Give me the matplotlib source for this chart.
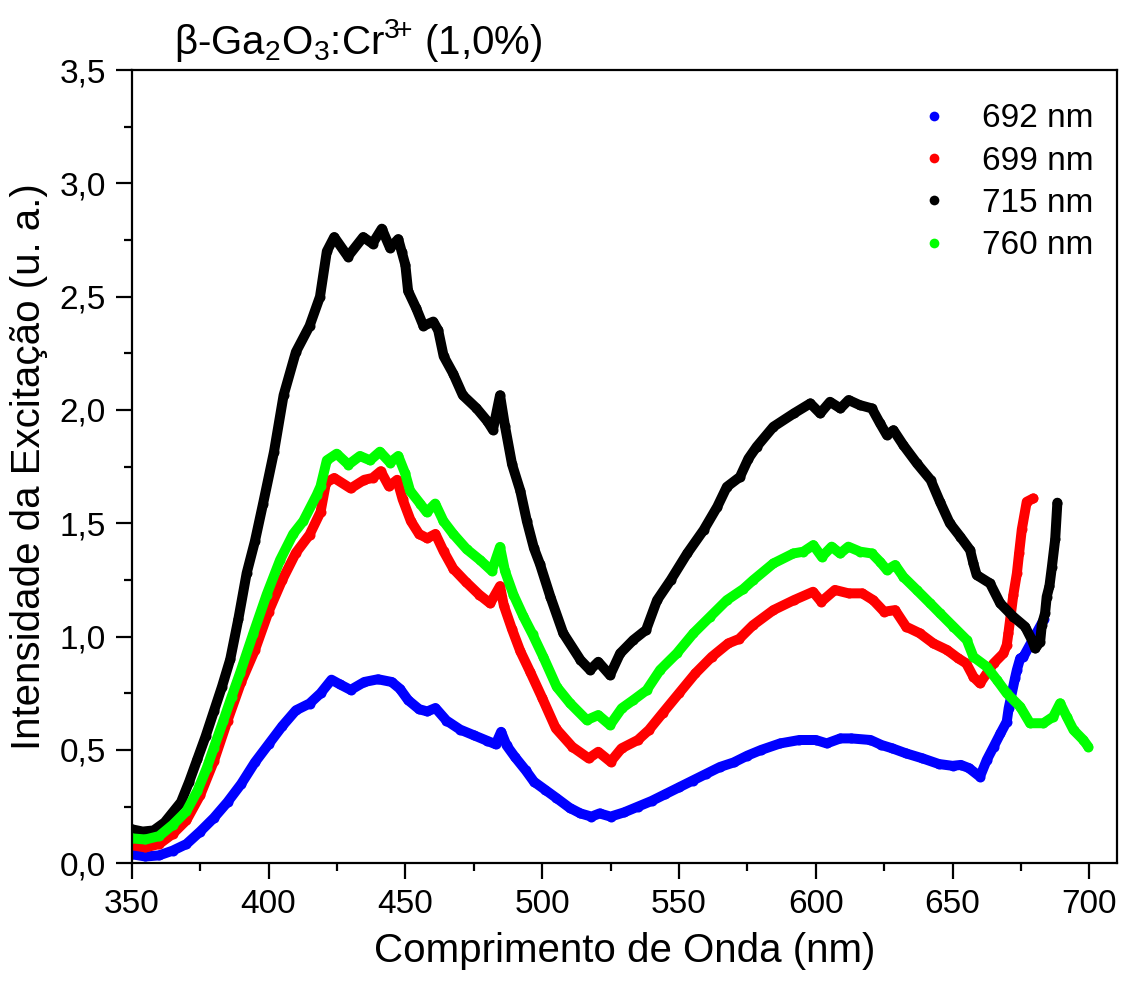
import matplotlib
matplotlib.use("Agg")
import matplotlib.pyplot as plt
from matplotlib.lines import Line2D
from matplotlib.ticker import MultipleLocator, FuncFormatter

plt.rcParams['font.family'] = ['Liberation Sans', 'DejaVu Sans']
plt.rcParams['mathtext.fontset'] = 'custom'
plt.rcParams['mathtext.rm'] = 'Liberation Sans'
plt.rcParams['mathtext.it'] = 'Liberation Sans:italic'
plt.rcParams['mathtext.bf'] = 'Liberation Sans:bold'

# ---------------- data ----------------
wl_692 = [350, 355, 360, 365, 370, 375, 380, 385, 390, 395, 400, 405, 410, 415, 419,
          423, 426, 430, 435, 440, 445, 448, 451, 455, 458, 461, 465, 470, 475, 480,
          483, 485, 487, 490, 494, 497, 501, 505, 510, 514, 518, 521, 525, 530, 535,
          540, 545, 550, 555, 560, 565, 570, 575, 580, 587, 594, 600, 604, 609, 613,
          620, 624, 628, 633, 639, 645, 650, 653, 656, 660, 662.5, 665, 667.5, 669.8,
          670.5, 672.8, 673.5, 674.7, 675.9, 683.4]
int_692 = [0.04, 0.03, 0.035, 0.056, 0.085, 0.14, 0.20, 0.27, 0.35, 0.445, 0.525, 0.605,
           0.675, 0.705, 0.75, 0.81, 0.79, 0.765, 0.80, 0.812, 0.80, 0.77, 0.72, 0.68,
           0.67, 0.685, 0.63, 0.59, 0.565, 0.54, 0.525, 0.58, 0.52, 0.47, 0.41, 0.36,
           0.325, 0.29, 0.245, 0.22, 0.206, 0.22, 0.206, 0.225, 0.25, 0.275, 0.305,
           0.335, 0.365, 0.395, 0.425, 0.445, 0.475, 0.50, 0.529, 0.544, 0.544, 0.529,
           0.551, 0.551, 0.544, 0.522, 0.507, 0.485, 0.463, 0.438, 0.43, 0.434, 0.42,
           0.382, 0.456, 0.514, 0.573, 0.625, 0.684, 0.816, 0.853, 0.904, 0.911, 1.076]

wl_699 = [350, 355, 360, 365, 370, 375, 380, 385, 390, 395, 400, 405, 410, 415, 419,
          421, 424, 430, 435, 438, 441, 444, 447, 449, 452, 455, 458, 461, 464, 467.5,
          472, 477, 481, 484.6, 486, 489, 492, 495.6, 500, 505, 511, 517, 520.5, 525,
          529, 535, 539, 544, 550, 556, 562, 568, 572, 577, 584.5, 592, 599, 602, 607,
          612, 617, 621, 625, 629, 633, 638, 643, 648, 652, 655, 657.6, 660, 662.5, 665,
          668.6, 669.8, 670.4, 672.2, 673.5, 674.3, 675.3, 677.1, 679.5]
int_699 = [0.08, 0.07, 0.085, 0.13, 0.19, 0.30, 0.45, 0.63, 0.80, 0.94, 1.11, 1.25, 1.37,
           1.45, 1.55, 1.68, 1.70, 1.654, 1.692, 1.70, 1.73, 1.663, 1.692, 1.606, 1.51,
           1.453, 1.434, 1.453, 1.376, 1.30, 1.243, 1.185, 1.147, 1.223, 1.137, 1.032,
           0.936, 0.845, 0.73, 0.595, 0.514, 0.463, 0.492, 0.448, 0.507, 0.544, 0.588,
           0.662, 0.75, 0.838, 0.911, 0.97, 0.99, 1.05, 1.117, 1.161, 1.198, 1.154,
           1.206, 1.191, 1.191, 1.161, 1.11, 1.117, 1.044, 1.015, 0.97, 0.941, 0.905,
           0.882, 0.823, 0.794, 0.838, 0.882, 0.926, 0.963, 1.015, 1.184, 1.279, 1.367,
           1.473, 1.595, 1.61]

wl_715 = [350, 354, 358, 362, 364, 368, 371, 374, 377, 380, 383, 386, 389, 392, 395,
          398, 402, 405.5, 410, 415, 418.8, 421.3, 424, 429, 434.6, 438, 441.4, 444.4,
          447.4, 448.7, 450, 451, 454, 456.6, 460.2, 462, 464, 467.5, 471, 476, 480,
          482, 484.6, 486.4, 489, 492, 494.4, 497, 499.2, 503, 507.7, 514, 517.5, 520.5,
          524.8, 528.5, 533.3, 538, 542, 547, 553, 559, 564, 567.5, 572.3, 575.4, 578.4,
          584.5, 592, 598, 601.6, 605.2, 609, 612, 616, 620.5, 623.5, 626, 628.4, 632,
          637, 642, 645.4, 649, 652.8, 656.4, 657.6, 658.8, 663.7, 667.4, 672.2, 676.5,
          679, 680.2, 682, 682.6, 683.8, 684.4, 685.4, 686.3, 687.5, 688.3]
int_715 = [0.15, 0.14, 0.145, 0.18, 0.21, 0.27, 0.36, 0.46, 0.56, 0.67, 0.78, 0.90, 1.08,
           1.28, 1.42, 1.587, 1.816, 2.065, 2.256, 2.371, 2.50, 2.70, 2.763, 2.677,
           2.763, 2.734, 2.80, 2.715, 2.754, 2.697, 2.64, 2.525, 2.448, 2.371, 2.39,
           2.352, 2.237, 2.16, 2.065, 2.008, 1.95, 1.912, 2.065, 1.93, 1.76, 1.644, 1.51,
           1.39, 1.32, 1.176, 1.015, 0.897, 0.853, 0.889, 0.83, 0.926, 0.985, 1.03,
           1.161, 1.25, 1.367, 1.47, 1.573, 1.661, 1.705, 1.786, 1.838, 1.926, 1.985,
           2.029, 1.985, 2.036, 2.007, 2.044, 2.022, 2.007, 1.941, 1.889, 1.911, 1.845,
           1.764, 1.691, 1.595, 1.50, 1.441, 1.382, 1.323, 1.272, 1.235, 1.147, 1.088,
           1.044, 0.985, 0.948, 0.977, 1.051, 1.103, 1.176, 1.223, 1.308, 1.429, 1.591]

wl_760 = [350, 355, 360, 365, 370, 374, 377.4, 380, 383.5, 386.5, 389.6, 394.4, 399.3,
          404.2, 409, 412.7, 417.6, 419, 421.3, 424.9, 429.2, 433.4, 437.1, 440.7, 444.4,
          447.4, 449.9, 451.7, 455.4, 457.8, 460.9, 463.9, 467.5, 472.4, 477.3, 481.6,
          484.6, 486.4, 489.5, 493.1, 496.5, 500.4, 505.3, 510.2, 516.3, 520.5, 524.8,
          529.1, 533.3, 538.2, 543.1, 549.2, 555.3, 561.4, 567.5, 573.5, 577.2, 584.5,
          591.8, 595.5, 599.1, 602.2, 605.8, 608.9, 611.9, 616.2, 620.5, 623.5, 626, 629,
          632, 636.9, 641.8, 645.4, 650.3, 655.2, 657.6, 662.5, 666.2, 669.8, 674.7,
          678.3, 683.2, 686.8, 689.3, 691.7, 694.2, 697.8, 699.6]
int_760 = [0.11, 0.105, 0.12, 0.17, 0.23, 0.32, 0.42, 0.51, 0.63, 0.735, 0.84, 1.013,
           1.185, 1.338, 1.453, 1.51, 1.625, 1.663, 1.778, 1.807, 1.759, 1.797, 1.778,
           1.816, 1.768, 1.797, 1.721, 1.644, 1.587, 1.549, 1.587, 1.51, 1.453, 1.386,
           1.338, 1.29, 1.396, 1.29, 1.185, 1.09, 1.01, 0.911, 0.779, 0.706, 0.632,
           0.654, 0.61, 0.684, 0.72, 0.764, 0.853, 0.926, 1.015, 1.088, 1.161, 1.21,
           1.25, 1.323, 1.367, 1.375, 1.404, 1.352, 1.397, 1.367, 1.397, 1.375, 1.367,
           1.33, 1.294, 1.316, 1.264, 1.206, 1.147, 1.103, 1.044, 0.985, 0.911, 0.867,
           0.809, 0.75, 0.691, 0.618, 0.618, 0.647, 0.706, 0.647, 0.588, 0.544, 0.514]

series_labels = ['692 nm', '699 nm', '715 nm', '760 nm']
series_colors = ['#0000ff', '#ff0000', '#000000', '#00ff00']
x_ticks = [350, 400, 450, 500, 550, 600, 650, 700]

title_text = r'β-Ga$_\mathrm{2}$O$_\mathrm{3}$:Cr$^{\mathrm{3}\!\mathrm{+}}$ (1,0%)'
xlabel_text = 'Comprimento de Onda (nm)'
ylabel_text = 'Intensidade da Excitação (u. a.)'

# ---------------- figure ----------------
fig = plt.figure(figsize=(11.27, 9.89), dpi=100)
ax = fig.add_axes([0.1169, 0.1271, 0.874, 0.8021])

data = [(wl_692, int_692), (wl_699, int_699), (wl_715, int_715), (wl_760, int_760)]
for (xs, ys), c in zip(data, series_colors):
    ax.plot(xs, ys, color=c, lw=7.2, marker='o', ms=7.2, mew=0,
            solid_capstyle='round', solid_joinstyle='round')

ax.set_xlim(350, 710)
ax.set_ylim(0, 3.5)
ax.set_xticks(x_ticks)
ax.xaxis.set_minor_locator(MultipleLocator(25))
ax.yaxis.set_major_locator(MultipleLocator(0.5))
ax.yaxis.set_minor_locator(MultipleLocator(0.25))
ax.yaxis.set_major_formatter(FuncFormatter(lambda v, p: f'{v:.1f}'.replace('.', ',')))

for s in ax.spines.values():
    s.set_linewidth(1.6)
ax.tick_params(which='both', direction='out', top=False, right=False, width=1.6)
ax.tick_params(which='major', length=11.5, labelsize=24, pad=7)
ax.tick_params(which='minor', length=5.8)

ax.set_xlabel(xlabel_text, fontsize=29, labelpad=9)
ax.set_ylabel(ylabel_text, fontsize=29, labelpad=8)

fig.text(174 / 1127, 1 - 54 / 989, title_text, fontsize=29, ha='left', va='baseline')

handles = [Line2D([], [], ls='none', marker='o', ms=7, mew=0, color=c) for c in series_colors]
ax.legend(handles, series_labels, loc='upper right', frameon=False, fontsize=24,
          handlelength=1.0, handletextpad=0.93, labelspacing=0.34,
          borderaxespad=0.6, bbox_to_anchor=(1.0104, 1.0))

fig.savefig('out.png', dpi=100)
